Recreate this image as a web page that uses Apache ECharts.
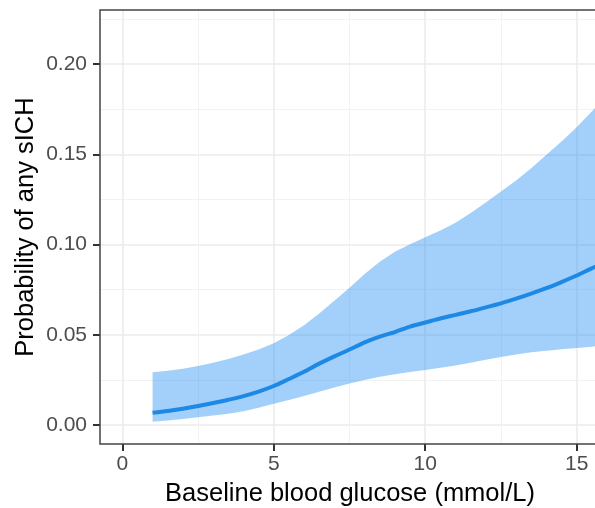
<!DOCTYPE html>
<html>
<head>
<meta charset="utf-8">
<script src="https://cdn.jsdelivr.net/npm/echarts@6/dist/echarts.min.js"></script>
<style>
html,body{margin:0;padding:0;background:#fff;}
#chart{width:595px;height:508px;}
</style>
</head>
<body>
<div id="chart"></div>
<script>
// ---- data ----
const glucose = [1,1.5,2,2.5,3,3.5,4,4.5,5,5.5,6,6.5,7,7.5,8,8.5,9,9.5,10,10.5,11,11.5,12,12.5,13,13.5,14,14.5,15,15.5,16];
const probability = [0.0068,0.0078,0.0090,0.0105,0.0122,0.0140,0.0160,0.0185,0.0216,0.0255,0.0295,0.0340,0.0380,0.0418,0.0458,0.0490,0.0515,0.0545,0.0568,0.0590,0.0610,0.0630,0.0652,0.0674,0.0700,0.0728,0.0758,0.0792,0.0828,0.0868,0.0905];
const lowerCI = [0.0018,0.0025,0.0033,0.0043,0.0052,0.0062,0.0076,0.0096,0.0118,0.0138,0.0160,0.0184,0.0208,0.0230,0.0250,0.0267,0.0281,0.0294,0.0305,0.0317,0.0330,0.0345,0.0361,0.0377,0.0391,0.0403,0.0412,0.0419,0.0426,0.0434,0.0442];
const upperCI = [0.0292,0.0300,0.0312,0.0327,0.0345,0.0366,0.0390,0.0418,0.0453,0.0498,0.0553,0.0618,0.0688,0.0760,0.0837,0.0905,0.0960,0.1002,0.1040,0.1078,0.1120,0.1175,0.1232,0.1293,0.1355,0.1422,0.1497,0.1570,0.1650,0.1737,0.1830];
const xTickStep = 5;
const yTickStep = 0.05;
const xTitle = 'Baseline blood glucose (mmol/L)';
const yTitle = 'Probability of any sICH';

// ---- layout (pixels) ----
const W = 595, H = 508;
const panelLeft = 100, panelTop = 10, panelBottomPx = 444, panelRightPx = 600;
const x0px = 122.3, pxPerX = 30.29;
const y0px = 425, pxPerY = 1805;

const xMinPanel = -(x0px - panelLeft) / pxPerX;
const xMaxPanel = (panelRightPx - x0px) / pxPerX;
const yMinPanel = -(panelBottomPx - y0px) / pxPerY;
const yMaxPanel = (y0px - panelTop) / pxPerY;

const xGridMax = 20;
const yGridMax = 0.25;

const font = "'Liberation Sans', Arial, sans-serif";
const majorGrid = {show:true, lineStyle:{color:'#EBEBEB', width:1.5}};
const minorGrid = {show:true, lineStyle:{color:'#F2F2F2', width:1}};
const gridBase = {containLabel:false, outerBoundsMode:'none'};
const tickStyle = {show:true, length:7, lineStyle:{color:'#333333', width:2}};

const ribbonData = glucose.map((x,i)=>[x, lowerCI[i], upperCI[i]]);
const linePts = glucose.map((x,i)=>[x, probability[i]]);

function renderRibbon(params, api){
  if (params.dataIndex !== 0) return null;
  const top = glucose.map((x,i)=>api.coord([x, upperCI[i]]));
  const bottom = glucose.map((x,i)=>api.coord([x, lowerCI[i]])).reverse();
  return {type:'polygon', shape:{points: top.concat(bottom)},
          style:{fill:'rgba(30,140,245,0.41)', stroke:null}};
}

const chart = echarts.init(document.getElementById('chart'), null, {renderer:'canvas'});
chart.setOption({
  animation:false,
  backgroundColor:'#ffffff',
  textStyle:{fontFamily:font},
  grid:[
    Object.assign({left:panelLeft, top:panelTop, right:W-panelRightPx, bottom:H-panelBottomPx,
     show:true, z:10, backgroundColor:'transparent', borderColor:'#444444', borderWidth:1.5}, gridBase),
    Object.assign({left:x0px, top:panelTop, right:W-x0px-xGridMax*pxPerX, bottom:H-panelBottomPx}, gridBase),
    Object.assign({left:panelLeft, top:y0px-yGridMax*pxPerY, right:W-panelRightPx, bottom:H-y0px}, gridBase)
  ],
  xAxis:[
    {gridIndex:0, type:'value', min:xMinPanel, max:xMaxPanel,
     axisLine:{show:false, onZero:false}, axisTick:{show:false}, axisLabel:{show:false}, splitLine:{show:false},
     name:xTitle, nameLocation:'middle', nameGap:37,
     nameTextStyle:{fontSize:25.5, color:'#000000', fontFamily:font}},
    {gridIndex:1, type:'value', min:0, max:xGridMax, interval:xTickStep,
     axisLine:{show:false, onZero:false},
     axisTick:tickStyle,
     minorTick:{show:false, splitNumber:2},
     axisLabel:{show:true, color:'#4D4D4D', fontSize:21, margin:10, fontFamily:font},
     splitLine:majorGrid, minorSplitLine:minorGrid},
    {gridIndex:2, type:'value', min:xMinPanel, max:xMaxPanel, show:false, axisLine:{onZero:false}}
  ],
  yAxis:[
    {gridIndex:0, type:'value', min:yMinPanel, max:yMaxPanel,
     axisLine:{show:false, onZero:false}, axisTick:{show:false}, axisLabel:{show:false}, splitLine:{show:false},
     name:yTitle, nameLocation:'middle', nameGap:61,
     nameTextStyle:{fontSize:25.5, color:'#000000', fontFamily:font}},
    {gridIndex:1, type:'value', min:0, max:1, show:false, axisLine:{onZero:false}},
    {gridIndex:2, type:'value', min:0, max:yGridMax, interval:yTickStep,
     axisLine:{show:false, onZero:false},
     axisTick:tickStyle,
     minorTick:{show:false, splitNumber:2},
     axisLabel:{show:true, color:'#4D4D4D', fontSize:21, margin:13, fontFamily:font,
                formatter:v=>v.toFixed(2)},
     splitLine:majorGrid, minorSplitLine:minorGrid}
  ],
  series:[
    {type:'custom', xAxisIndex:0, yAxisIndex:0, data:ribbonData,
     encode:{x:0, y:[1,2]}, renderItem:renderRibbon, z:2, silent:true},
    {type:'line', xAxisIndex:0, yAxisIndex:0, data:linePts,
     symbol:'none', smooth:0.3, lineStyle:{color:'#1E88E5', width:4}, z:3}
  ]
});
</script>
</body>
</html>
